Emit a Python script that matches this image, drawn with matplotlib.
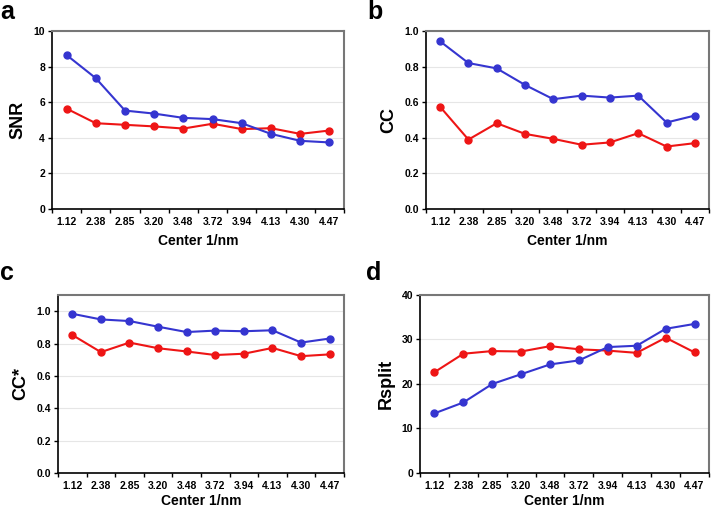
import matplotlib
matplotlib.use("Agg")
import matplotlib.pyplot as plt
import numpy as np

plt.rcParams['font.family'] = ['Liberation Sans', 'DejaVu Sans']

categories = ["1.12", "2.38", "2.85", "3.20", "3.48", "3.72", "3.94", "4.13", "4.30", "4.47"]

snr_blue = [8.65, 7.35, 5.53, 5.36, 5.12, 5.05, 4.82, 4.22, 3.83, 3.74]
snr_red = [5.64, 4.82, 4.73, 4.64, 4.52, 4.79, 4.49, 4.54, 4.22, 4.41]

cc_blue = [0.942, 0.820, 0.790, 0.697, 0.617, 0.637, 0.626, 0.637, 0.486, 0.525]
cc_red = [0.574, 0.390, 0.482, 0.422, 0.394, 0.361, 0.374, 0.426, 0.351, 0.370]

ccs_blue = [0.984, 0.949, 0.939, 0.904, 0.871, 0.880, 0.876, 0.882, 0.806, 0.831]
ccs_red = [0.853, 0.747, 0.806, 0.771, 0.751, 0.729, 0.737, 0.773, 0.722, 0.733]

rs_blue = [13.4, 15.85, 20.0, 22.2, 24.4, 25.3, 28.3, 28.6, 32.4, 33.5]
rs_red = [22.65, 26.8, 27.4, 27.3, 28.5, 27.8, 27.5, 27.0, 30.4, 27.1]

BLUE = "#3535D0"
RED = "#EE1515"

fig = plt.figure(figsize=(7.14, 5.11), dpi=100)

panels = [
    dict(rect=[0.0728, 0.591, 0.409, 0.3483], blue=snr_blue, red=snr_red, ylabel="SNR",
         ylim=(0, 10), yticks=[0, 2, 4, 6, 8, 10], fmt="{:.0f}", letter="a", lpos=(0.0, 0.962), xpad=5),
    dict(rect=[0.5966, 0.591, 0.3964, 0.3483], blue=cc_blue, red=cc_red, ylabel="CC",
         ylim=(0, 1.0), yticks=[0, 0.2, 0.4, 0.6, 0.8, 1.0], fmt="{:.1f}", letter="b", lpos=(0.515, 0.962), xpad=5),
    dict(rect=[0.0812, 0.0744, 0.4006, 0.3483], blue=ccs_blue, red=ccs_red, ylabel="CC*",
         ylim=(0, 1.1), yticks=[0, 0.2, 0.4, 0.6, 0.8, 1.0], fmt="{:.1f}", letter="c", lpos=(0.0, 0.452), xpad=2),
    dict(rect=[0.5882, 0.0744, 0.4048, 0.3483], blue=rs_blue, red=rs_red, ylabel="Rsplit",
         ylim=(0, 40), yticks=[0, 10, 20, 30, 40], fmt="{:.0f}", letter="d", lpos=(0.512, 0.452), xpad=2),
]

x = np.arange(len(categories))
for p in panels:
    ax = fig.add_axes(p["rect"])
    for yv in p["yticks"][1:]:
        ax.axhline(yv, color="#e6e6e6", lw=0.8, zorder=0)
    ax.plot(x, p["red"], color=RED, lw=1.5, marker="o", ms=5, zorder=3)
    ax.plot(x, p["blue"], color=BLUE, lw=1.5, marker="o", ms=5, zorder=3)
    ax.set_xlim(-0.5, len(categories) - 0.5)
    ax.set_ylim(*p["ylim"])
    ax.set_xticks(x)
    ax.set_xticklabels(categories, fontsize=7.5, fontweight="bold")
    ax.set_xticks(np.arange(-0.5, len(categories), 1.0), minor=True)
    ax.tick_params(axis="x", which="major", length=0, pad=6)
    ax.tick_params(axis="x", which="minor", length=3, direction="out", width=1, color="black")
    ax.set_yticks(p["yticks"])
    ax.set_yticklabels([p["fmt"].format(v) for v in p["yticks"]], fontsize=7.5, fontweight="bold")
    ax.tick_params(axis="y", length=3, direction="out", width=1, pad=2)
    for s in ["top", "right"]:
        ax.spines[s].set_color("#777777")
        ax.spines[s].set_linewidth(1.5)
    for s in ["left", "bottom"]:
        ax.spines[s].set_color("black")
        ax.spines[s].set_linewidth(1.2)
    ax.set_xlabel("Center 1/nm", fontsize=10, fontweight="bold", labelpad=p["xpad"])
    ax.set_ylabel(p["ylabel"], fontsize=13, fontweight="bold", labelpad=5)
    fig.text(p["lpos"][0], p["lpos"][1], p["letter"], fontsize=18, fontweight="bold",
             ha="left", va="baseline")

fig.savefig("out.png", dpi=100)
